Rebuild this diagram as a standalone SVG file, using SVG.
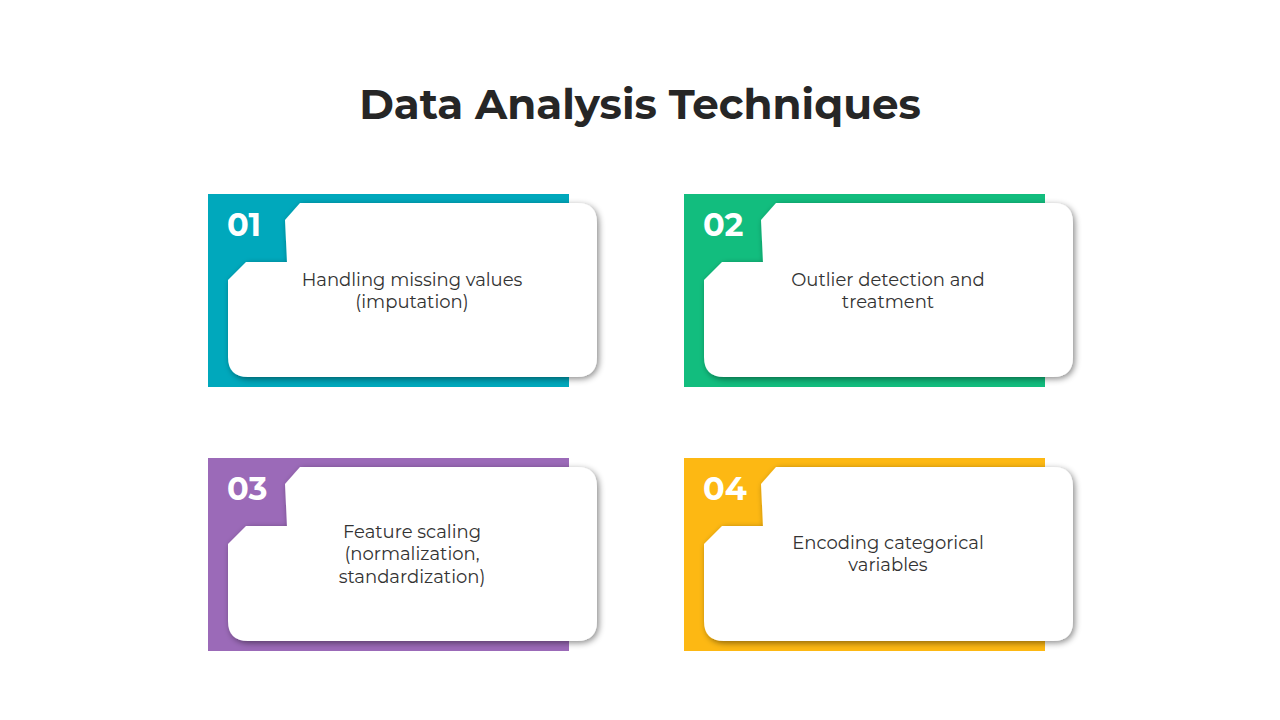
<svg xmlns="http://www.w3.org/2000/svg" width="1280" height="720" viewBox="0 0 1280 720">
<defs>
<filter id="sh" x="-10%" y="-10%" width="125%" height="125%"><feDropShadow dx="2" dy="2" stdDeviation="3" flood-color="#000" flood-opacity="0.45"/></filter>
<path id="w" d="M300,203 H577 Q597,203 597,223 V357 Q597,377 577,377 H248 Q228,377 228,357 V280 L246,262 H287 L285,220 Z"/>
</defs>
<style>
.t{font-family:Montserrat,"Open Sans","Liberation Sans",sans-serif;}
.n{font-family:Montserrat,"Open Sans","Liberation Sans",sans-serif;font-weight:700;font-size:32px;fill:#fff}
.b{font-family:Montserrat,"Open Sans","Liberation Sans",sans-serif;font-size:18px;fill:#333;text-anchor:middle}
</style>
<rect width="1280" height="720" fill="#fff"/>
<text class="t" x="640" y="119" text-anchor="middle" font-size="42" font-weight="700" fill="#262626">Data Analysis Techniques</text>
<g id="card1">
<rect x="208" y="194" width="361" height="193" fill="#00A8BC"/>
<use href="#w" fill="#fff" filter="url(#sh)"/>
<text class="n" x="227" y="236">01</text>
<text class="b" x="412" y="286">Handling missing values</text>
<text class="b" x="412" y="308">(imputation)</text>
</g>
<g id="card2" transform="translate(476,0)">
<rect x="208" y="194" width="361" height="193" fill="#12BD7E"/>
<use href="#w" fill="#fff" filter="url(#sh)"/>
<text class="n" x="227" y="236">02</text>
<text class="b" x="412" y="286">Outlier detection and</text>
<text class="b" x="412" y="308">treatment</text>
</g>
<g id="card3" transform="translate(0,264)">
<rect x="208" y="194" width="361" height="193" fill="#9B6AB8"/>
<use href="#w" fill="#fff" filter="url(#sh)"/>
<text class="n" x="227" y="236">03</text>
<text class="b" x="412" y="274">Feature scaling</text>
<text class="b" x="412" y="296">(normalization,</text>
<text class="b" x="412" y="319">standardization)</text>
</g>
<g id="card4" transform="translate(476,264)">
<rect x="208" y="194" width="361" height="193" fill="#FDB813"/>
<use href="#w" fill="#fff" filter="url(#sh)"/>
<text class="n" x="227" y="236">04</text>
<text class="b" x="412" y="285">Encoding categorical</text>
<text class="b" x="412" y="307">variables</text>
</g>
<g id="connectors"/>
</svg>
